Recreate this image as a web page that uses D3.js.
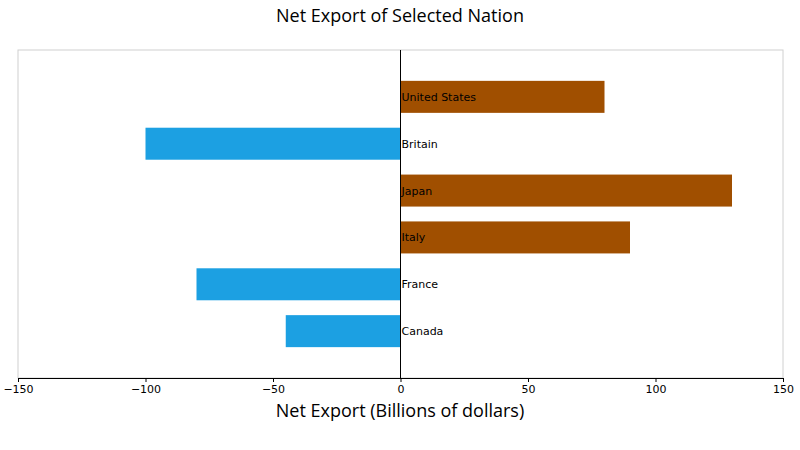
<!DOCTYPE html><html><head><meta charset="utf-8"><script src="https://cdn.jsdelivr.net/npm/d3@7"></script>
<style>body{margin:0;background:#fff}</style></head><body><svg width="800" height="450"></svg>
<script>
const countries=["United States","Britain","Japan","Italy","France","Canada"];
const values=[80,-100,130,90,-80,-45];
const ticks=[-150,-100,-50,0,50,100,150];
const svg=d3.select("svg");
const L=18,R=783,T=50,B=378;
const x=d3.scaleLinear().domain([-150,150]).range([L,R]);
const y=d3.scalePoint().domain(countries).range([T,B]).padding(1);
svg.append("rect").attr("x",L).attr("y",T).attr("width",R-L).attr("height",B-T).attr("fill","none").attr("stroke","#d0d0d0");
svg.selectAll(".bar").data(countries).join("rect")
 .attr("x",(d,i)=>x(Math.min(0,values[i]))).attr("width",(d,i)=>Math.abs(x(values[i])-x(0)))
 .attr("y",d=>y(d)-16).attr("height",32)
 .attr("fill",(d,i)=>values[i]>=0?"#a04f00":"#1ca0e2");
svg.append("line").attr("x1",x(0)).attr("x2",x(0)).attr("y1",T).attr("y2",B).attr("stroke","#000");
svg.selectAll(".lab").data(countries).join("text").attr("x",x(0)+1).attr("y",d=>y(d)+4)
 .attr("font-family","DejaVu Sans").attr("font-size",11).text(d=>d);
const ax=svg.append("g").attr("transform",`translate(0,${B})`).call(d3.axisBottom(x).tickValues(ticks).tickSize(4).tickFormat(d3.format("d")));
ax.select(".domain").attr("stroke","#000");
ax.selectAll("text").attr("font-family","DejaVu Sans").attr("font-size",11);
svg.append("text").attr("x",400).attr("y",22).attr("text-anchor","middle").attr("font-family","Open Sans").attr("font-size",18).text("Net Export of Selected Nation");
svg.append("text").attr("x",400).attr("y",417).attr("text-anchor","middle").attr("font-family","Open Sans").attr("font-size",18).text("Net Export (Billions of dollars)");
</script></body></html>
